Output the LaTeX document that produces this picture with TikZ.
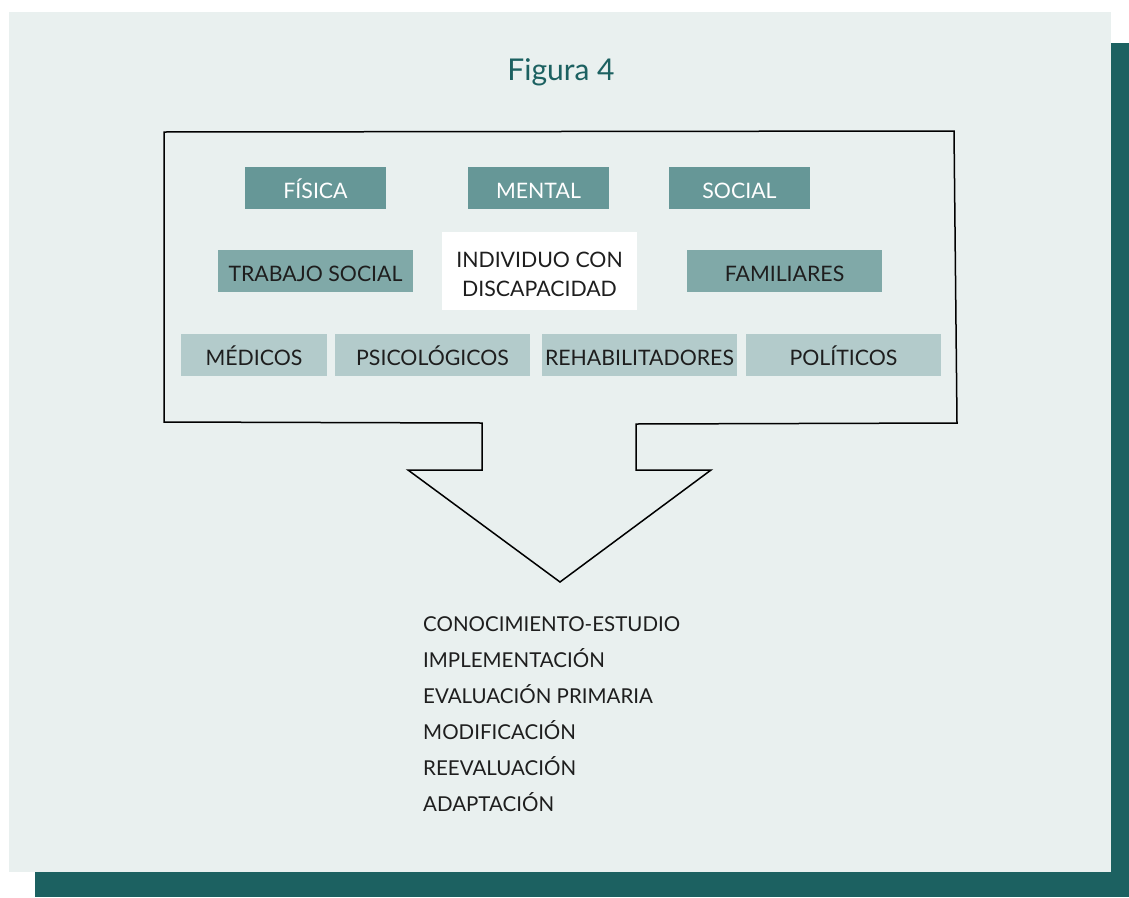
\documentclass[tikz,border=0pt]{standalone}
\usepackage{fontspec}
\setmainfont{Lato}
\definecolor{panel}{HTML}{E9F0EF}
\definecolor{teal}{HTML}{1C6161}
\definecolor{dkfill}{HTML}{669797}
\definecolor{mdfill}{HTML}{80A9A8}
\definecolor{ltfill}{HTML}{B3CBCB}
\definecolor{ink}{HTML}{1E1E1E}
\begin{document}
\begin{tikzpicture}[x=1pt,y=-1pt,
		box/.style={minimum width=141pt,minimum height=42pt,inner sep=0pt,
			text height=20pt,text depth=0pt,font=\fontsize{21.3}{29}\selectfont,text=ink},
		dkbox/.style={box,fill=dkfill,text=white},
		mdbox/.style={box,fill=mdfill,minimum width=195pt},
		ltbox/.style={box,fill=ltfill},
		item/.style={anchor=base west,inner sep=0pt,font=\fontsize{20.5}{25}\selectfont,text=ink}]
		\useasboundingbox (0,0) rectangle (1129,897);
		\fill[teal] (35,43) rectangle (1129,897);
		\fill[panel] (9,12) rectangle (1111,872);
		\node[anchor=base,inner sep=0pt,font=\fontsize{30}{34}\selectfont,text=teal]
			(title) at (561,80) {Figura 4};
		% first row
		\node[dkbox] (fisica) at (315.5,188) {FÍSICA};
		\node[dkbox] (mental) at (538.5,188) {MENTAL};
		\node[dkbox] (social) at (739.5,188) {SOCIAL};
		% second row
		\node[mdbox] (trabajo) at (315.5,271) {TRABAJO SOCIAL};
		\node[fill=white,minimum width=195pt,minimum height=78pt,inner sep=0pt,align=center,
			font=\fontsize{21.3}{29}\selectfont,text=ink]
			(individuo) at (539.5,271) {\rule{0pt}{23pt}INDIVIDUO CON\\DISCAPACIDAD};
		\node[mdbox] (familiares) at (784.5,271) {FAMILIARES};
		% third row
		\node[ltbox,minimum width=146pt] (medicos) at (254,355) {MÉDICOS};
		\node[ltbox,minimum width=195pt] (psico) at (432.5,355) {PSICOLÓGICOS};
		\node[ltbox,minimum width=195pt] (rehab) at (639.5,355) {REHABILITADORES};
		\node[ltbox,minimum width=195pt] (politicos) at (843.5,355) {POLÍTICOS};
		% frame with arrow
		\draw[line width=1.5pt,line join=miter] (164,132) -- (954,131) -- (957,423)
			-- (636,424) -- (636,470) -- (711,470) -- (560,582) -- (408,470)
			-- (482,470) -- (482,423) -- (164,422) -- cycle;
		% steps
		\foreach[count=\k] \s in {CONOCIMIENTO-ESTUDIO,IMPLEMENTACIÓN,
			EVALUACIÓN PRIMARIA,MODIFICACIÓN,REEVALUACIÓN,ADAPTACIÓN}
		\node[item] (step\k) at (423,595+36*\k) {\s};
	\end{tikzpicture}
\end{document}
